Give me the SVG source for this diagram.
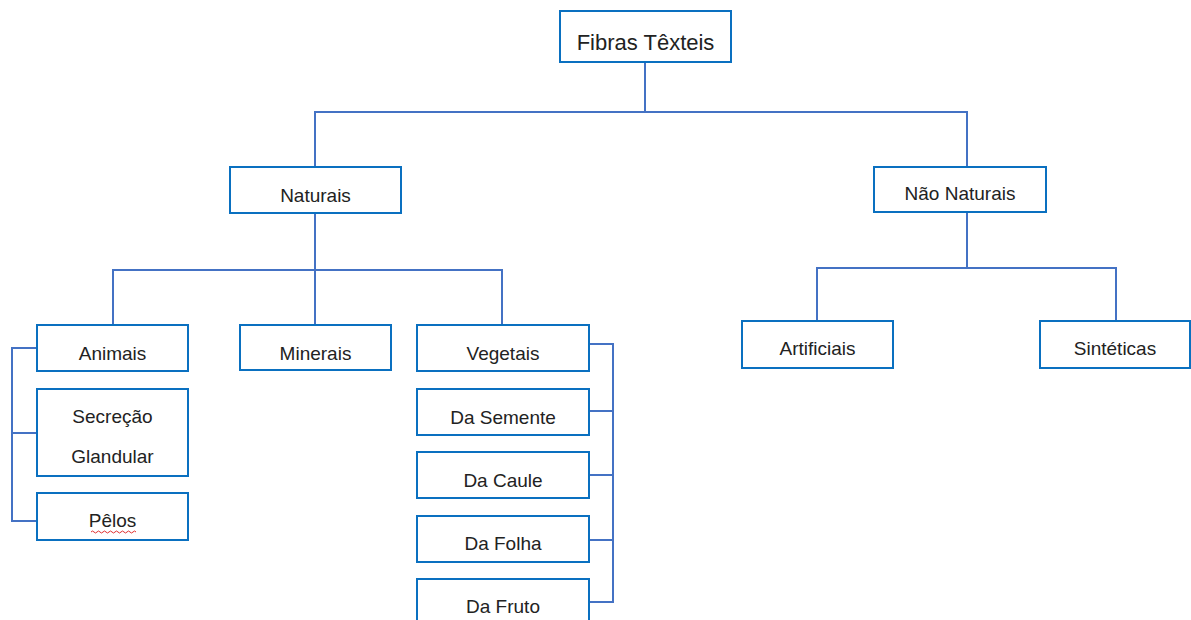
<svg xmlns="http://www.w3.org/2000/svg" width="1191" height="620" viewBox="0 0 1191 620">
<style>
.box{fill:#ffffff;stroke:#0a70c0;stroke-width:2}
.lbl{font-family:"Liberation Sans",Arial,sans-serif;font-size:19px;fill:#222222;text-anchor:middle}
.ttl{font-size:22px}
.con{fill:none;stroke:#4472c4;stroke-width:2}
</style>
<rect width="1191" height="620" fill="#ffffff"/>
<g id="connectors">
<path class="con" d="M645,62 V112 M315,167 V112 H967 V167"/>
<path class="con" d="M315,213 V325 M113,325 V270 H502 V325"/>
<path class="con" d="M967,212 V268 M817,321 V268 H1116 V321"/>
<path class="con" d="M37,348 H12 V521 H37 M12,433 H37"/>
<path class="con" d="M589,344 H613 V602 H589 M589,411 H613 M589,475 H613 M589,540 H613"/>
</g>
<g id="n-fibras"><rect class="box" x="560" y="11" width="171" height="51"/><text class="lbl ttl" x="645.5" y="50">Fibras Têxteis</text></g>
<g id="n-naturais"><rect class="box" x="230" y="167" width="171" height="46"/><text class="lbl" x="315.5" y="202">Naturais</text></g>
<g id="n-nao-naturais"><rect class="box" x="874" y="167" width="172" height="45"/><text class="lbl" x="960" y="200">Não Naturais</text></g>
<g id="n-animais"><rect class="box" x="37" y="325" width="151" height="46"/><text class="lbl" x="112.5" y="360">Animais</text></g>
<g id="n-minerais"><rect class="box" x="240" y="325" width="151" height="45"/><text class="lbl" x="315.5" y="360">Minerais</text></g>
<g id="n-vegetais"><rect class="box" x="417" y="325" width="172" height="46"/><text class="lbl" x="503" y="360">Vegetais</text></g>
<g id="n-artificiais"><rect class="box" x="742" y="321" width="151" height="47"/><text class="lbl" x="817.5" y="355">Artificiais</text></g>
<g id="n-sinteticas"><rect class="box" x="1040" y="321" width="150" height="47"/><text class="lbl" x="1115" y="355">Sintéticas</text></g>
<g id="n-secrecao"><rect class="box" x="37" y="389" width="151" height="87"/><text class="lbl" x="112.5" y="423">Secreção</text><text class="lbl" x="112.5" y="463">Glandular</text></g>
<g id="n-pelos"><rect class="box" x="37" y="493" width="151" height="47"/><text class="lbl" x="112.5" y="527">Pêlos</text><path d="M91,532 q1.5,-2 3,0 t3,0 t3,0 t3,0 t3,0 t3,0 t3,0 t3,0 t3,0 t3,0 t3,0 t3,0 t3,0 t3,0 t3,0" fill="none" stroke="#e03030" stroke-width="1"/></g>
<g id="n-semente"><rect class="box" x="417" y="389" width="172" height="46"/><text class="lbl" x="503" y="424">Da Semente</text></g>
<g id="n-caule"><rect class="box" x="417" y="452" width="172" height="46"/><text class="lbl" x="503" y="487">Da Caule</text></g>
<g id="n-folha"><rect class="box" x="417" y="516" width="172" height="46"/><text class="lbl" x="503" y="550">Da Folha</text></g>
<g id="n-fruto"><rect class="box" x="417" y="579" width="172" height="50"/><text class="lbl" x="503" y="613">Da Fruto</text></g>
</svg>
